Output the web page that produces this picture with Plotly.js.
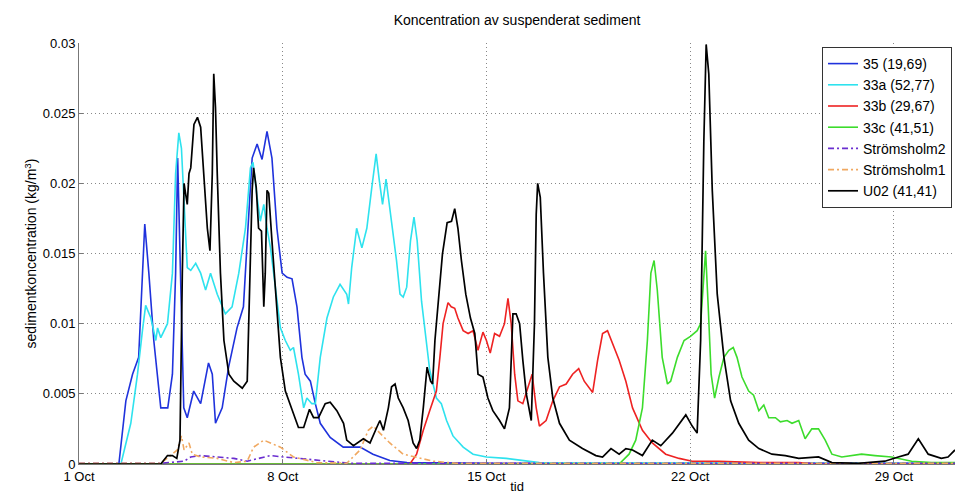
<!DOCTYPE html>
<html>
<head>
<meta charset="utf-8">
<script src="https://cdn.plot.ly/plotly-3.0.1.min.js"></script>
<style>html,body{margin:0;padding:0;background:#fff;}</style>
</head>
<body>
<div id="chart" style="width:957px;height:494px;"></div>
<script>
// x = day of October, y = concentration (kg/m3)
const s35 = [[1,0],[2.37,0],[2.61,0.0045],[2.84,0.0064],[3.05,0.0076],[3.18,0.0136],[3.26,0.0171],[3.40,0.0136],[3.57,0.0088],[3.81,0.004],[4.05,0.004],[4.21,0.0064],[4.32,0.0136],[4.39,0.0218],[4.49,0.0136],[4.60,0.004],[4.72,0.0033],[4.94,0.0052],[5.18,0.0043],[5.45,0.0072],[5.58,0.0064],[5.69,0.0029],[5.92,0.004],[6.14,0.0069],[6.43,0.0097],[6.65,0.0112],[6.78,0.0159],[6.95,0.0218],[7.12,0.0228],[7.29,0.0217],[7.46,0.0237],[7.63,0.0218],[7.80,0.0168],[7.98,0.0136],[8.15,0.0133],[8.32,0.0132],[8.49,0.0112],[8.66,0.0076],[8.77,0.0064],[8.95,0.0059],[9.12,0.0043],[9.29,0.0029],[9.63,0.0019],[10.08,0.0012],[10.66,0.0012],[11.10,0.0007],[11.68,0.00025],[12.27,0.0001],[15.45,0.00005],[31.1,0.00005]];

const s33a = [[1,0],[2.44,0],[2.78,0.0029],[3.01,0.0064],[3.18,0.0095],[3.29,0.0113],[3.47,0.0104],[3.64,0.0088],[3.70,0.0097],[3.81,0.009],[4.04,0.01],[4.21,0.0136],[4.32,0.0207],[4.43,0.0236],[4.52,0.0225],[4.61,0.0183],[4.72,0.014],[4.84,0.0138],[5.01,0.0143],[5.18,0.0136],[5.35,0.0124],[5.52,0.0136],[5.75,0.0121],[6.03,0.0107],[6.26,0.0112],[6.49,0.0136],[6.72,0.0168],[6.89,0.0211],[6.98,0.0215],[7.12,0.019],[7.23,0.0173],[7.35,0.0185],[7.46,0.0168],[7.58,0.0154],[7.69,0.0136],[7.80,0.0114],[7.92,0.0097],[8.09,0.0088],[8.26,0.0081],[8.37,0.0083],[8.54,0.0064],[8.72,0.004],[8.83,0.0047],[9.00,0.0043],[9.12,0.0043],[9.29,0.0076],[9.52,0.0104],[9.74,0.0119],[9.97,0.0128],[10.20,0.0121],[10.26,0.0114],[10.37,0.014],[10.54,0.0168],[10.72,0.0154],[10.89,0.0168],[11.06,0.0197],[11.21,0.0221],[11.32,0.0202],[11.43,0.0185],[11.55,0.0203],[11.68,0.0183],[11.80,0.0164],[11.91,0.0145],[12.03,0.0121],[12.14,0.0119],[12.26,0.0126],[12.39,0.0159],[12.51,0.0176],[12.62,0.0159],[12.77,0.0116],[12.92,0.0088],[13.05,0.0067],[13.28,0.0047],[13.45,0.0043],[13.63,0.0031],[13.85,0.002],[14.20,0.0012],[14.54,0.0007],[15.00,0.0005],[15.68,0.0004],[16.82,0.0001],[31.1,0.00005]];

const s33b = [[1,0],[12.37,0],[12.60,0.0007],[12.83,0.0024],[13.05,0.0038],[13.28,0.0052],[13.40,0.0076],[13.51,0.01],[13.68,0.0115],[13.79,0.0112],[13.91,0.0111],[14.02,0.0104],[14.20,0.0095],[14.37,0.0093],[14.54,0.0095],[14.71,0.0081],[14.88,0.0094],[15.00,0.0088],[15.13,0.0079],[15.28,0.0093],[15.45,0.0091],[15.62,0.01],[15.74,0.0118],[15.85,0.01],[15.97,0.0064],[16.08,0.0045],[16.25,0.0043],[16.42,0.0055],[16.57,0.0064],[16.71,0.004],[16.82,0.0027],[17.05,0.0031],[17.28,0.0045],[17.51,0.0055],[17.74,0.0057],[17.96,0.0064],[18.17,0.0068],[18.36,0.0059],[18.65,0.0051],[18.82,0.0074],[18.99,0.0093],[19.16,0.0095],[19.33,0.0086],[19.56,0.0074],[19.79,0.0059],[20.02,0.004],[20.36,0.0024],[20.70,0.0015],[21.16,0.0007],[21.62,0.0004],[22.07,0.0002],[22.99,0.0002],[24.36,0.0001],[25.73,0.0001],[26.4,0],[31.1,0]];

const s33c = [[1,0],[19.56,0],[19.90,0.0007],[20.13,0.0017],[20.36,0.004],[20.53,0.0088],[20.65,0.0136],[20.76,0.0145],[20.87,0.0124],[21.04,0.0076],[21.22,0.0057],[21.33,0.0059],[21.56,0.0076],[21.79,0.0088],[22.01,0.0091],[22.24,0.0095],[22.36,0.01],[22.47,0.0136],[22.53,0.0152],[22.62,0.0112],[22.72,0.0064],[22.84,0.0047],[22.99,0.0062],[23.16,0.0076],[23.33,0.0081],[23.48,0.0083],[23.61,0.0076],[23.78,0.0062],[24.01,0.0052],[24.18,0.0049],[24.36,0.0038],[24.53,0.0042],[24.70,0.0033],[24.93,0.0033],[25.10,0.003],[25.33,0.0031],[25.50,0.0029],[25.73,0.0031],[25.95,0.0018],[26.18,0.0025],[26.41,0.0025],[26.64,0.0017],[26.87,0.0007],[27.21,0.0005],[27.89,0.0007],[28.35,0.0006],[28.92,0.0005],[29.61,0.0002],[30.29,0.0001],[31.1,0.0001]];

const strom2 = [[1,0.00005],[3.81,0.00005],[4.61,0.0002],[4.84,0.0005],[5.18,0.0006],[5.75,0.0005],[6.32,0.0004],[6.78,0.0002],[7.23,0.0004],[7.58,0.0006],[8.03,0.0005],[8.60,0.0004],[9.74,0.0002],[10.32,0.00005],[31.1,0.00005]];

const strom1 = [[1,0.00005],[3.81,0.00005],[4.38,0.001],[4.52,0.002],[4.61,0.001],[4.78,0.0015],[4.89,0.0007],[5.18,0.0005],[5.75,0.0004],[6.32,0.0001],[6.78,0.0002],[7.00,0.0012],[7.35,0.0017],[7.58,0.0015],[7.92,0.0012],[8.37,0.0005],[9.17,0.0001],[10.20,0.00005],[10.66,0.001],[10.94,0.0024],[11.11,0.0027],[11.34,0.0022],[11.68,0.0015],[12.14,0.0007],[12.60,0.0005],[13.17,0.0002],[13.97,0.00005],[31.1,0.00005]];

const u02 = [[1,0],[3.81,0],[4.04,0.0006],[4.21,0.0006],[4.36,0.0004],[4.47,0.0017],[4.55,0.0136],[4.61,0.02],[4.66,0.0193],[4.72,0.0185],[4.78,0.0207],[4.84,0.0211],[4.95,0.0242],[5.07,0.0247],[5.18,0.024],[5.29,0.0207],[5.41,0.0168],[5.50,0.0152],[5.58,0.0207],[5.63,0.0278],[5.69,0.0254],[5.75,0.0207],[5.86,0.0136],[5.98,0.0088],[6.15,0.0064],[6.32,0.0059],[6.61,0.0054],[6.78,0.0059],[6.89,0.0136],[6.95,0.0195],[7.00,0.0211],[7.09,0.0197],[7.17,0.0168],[7.27,0.0166],[7.35,0.0112],[7.40,0.0136],[7.46,0.0195],[7.52,0.0193],[7.63,0.0159],[7.75,0.0124],[7.92,0.0076],[8.09,0.0052],[8.32,0.0038],[8.54,0.0026],[8.72,0.0026],[8.92,0.0039],[9.06,0.0033],[9.23,0.0033],[9.46,0.0043],[9.63,0.0044],[9.86,0.0038],[10.09,0.0029],[10.20,0.0017],[10.43,0.0013],[10.77,0.0018],[11.00,0.0015],[11.23,0.0026],[11.34,0.0031],[11.46,0.0024],[11.63,0.004],[11.74,0.0055],[11.86,0.0057],[11.97,0.0047],[12.14,0.004],[12.31,0.0031],[12.48,0.0015],[12.60,0.0011],[12.71,0.0017],[12.83,0.004],[12.96,0.0069],[13.08,0.0059],[13.15,0.0057],[13.23,0.0088],[13.34,0.0116],[13.49,0.015],[13.65,0.0172],[13.80,0.0173],[13.91,0.0182],[14.02,0.0168],[14.14,0.0145],[14.29,0.0121],[14.45,0.0104],[14.60,0.0093],[14.71,0.0064],[14.88,0.0062],[15.05,0.0047],[15.22,0.0038],[15.45,0.0031],[15.62,0.0025],[15.79,0.004],[15.91,0.0107],[16.02,0.0107],[16.14,0.01],[16.25,0.0074],[16.37,0.005],[16.54,0.0031],[16.65,0.01],[16.71,0.0178],[16.76,0.02],[16.85,0.019],[16.96,0.0136],[17.11,0.0076],[17.28,0.0047],[17.51,0.0029],[17.85,0.0017],[18.30,0.0011],[18.76,0.0006],[18.99,0.0005],[19.28,0.0011],[19.56,0.0007],[19.79,0.0011],[20.02,0.001],[20.36,0.0006],[20.70,0.0017],[20.99,0.0013],[21.39,0.0022],[21.85,0.0035],[22.07,0.0027],[22.24,0.0022],[22.36,0.0088],[22.47,0.023],[22.55,0.0299],[22.64,0.0278],[22.76,0.0195],[22.93,0.0121],[23.16,0.0076],[23.39,0.0045],[23.67,0.0029],[24.01,0.0017],[24.36,0.0011],[24.81,0.0007],[25.27,0.0006],[25.73,0.0004],[26.41,0.0005],[26.87,0.0001],[27.78,0.00005],[28.69,0.0002],[29.15,0.0005],[29.49,0.0007],[29.84,0.0018],[30.18,0.0007],[30.63,0.0004],[30.86,0.0005],[31.1,0.001]];

const seriesNames = ['35 (19,69)','33a (52,77)','33b (29,67)','33c (41,51)','Strömsholm2','Strömsholm1','U02 (41,41)'];
const xTickVals = [1, 8, 15, 22, 29];
const xTickText = ['1 Oct','8 Oct','15 Oct','22 Oct','29 Oct'];
const yTickVals = [0, 0.005, 0.01, 0.015, 0.02, 0.025, 0.03];
const yTickText = ['0','0.005','0.01','0.015','0.02','0.025','0.03'];

const seriesData = [s35, s33a, s33b, s33c, strom2, strom1, u02];
const styles = [
  {color:'#1f32dc', width:1.6, dash:'solid'},
  {color:'#2ee2ee', width:1.6, dash:'solid'},
  {color:'#ee2222', width:1.6, dash:'solid'},
  {color:'#3cdc2c', width:1.6, dash:'solid'},
  {color:'#6a2ed0', width:1.6, dash:'6px,3px,2px,3px'},
  {color:'#f0a860', width:1.6, dash:'6px,3px,2px,3px'},
  {color:'#000000', width:1.7, dash:'solid'}
];

const traces = seriesData.map((d, i) => ({
  type:'scatter', mode:'lines',
  name: seriesNames[i],
  x: d.map(p => p[0]),
  y: d.map(p => p[1]),
  line: styles[i]
}));

const layout = {
  width:957, height:494,
  margin:{l:79, r:2, t:43, b:30},
  paper_bgcolor:'#ffffff', plot_bgcolor:'#ffffff',
  font:{family:'"Liberation Sans", Arial, sans-serif', size:13, color:'#000'},
  title:{text:'Koncentration av suspenderat sediment', font:{size:14}, x:0.5, xref:'paper', xanchor:'center', y:1-20/494, yref:'container', yanchor:'middle'},
  showlegend:true,
  legend:{x:0.9966, xanchor:'right', y:0.9905, yanchor:'top', bgcolor:'#ffffff', bordercolor:'#333', borderwidth:1, font:{size:14}, tracegroupgap:0},
  xaxis:{
    range:[1, 31.1], tickmode:'array', tickvals:xTickVals, ticktext:xTickText,
    showgrid:true, gridcolor:'#888', griddash:'1px,3px', gridwidth:1,
    showline:true, linecolor:'#777', linewidth:1, ticks:'inside', ticklen:4, tickcolor:'#777',
    zeroline:false, title:{text:'tid', standoff:2, font:{size:13}}
  },
  yaxis:{
    range:[0, 0.03], tickmode:'array', tickvals:yTickVals, ticktext:yTickText,
    showgrid:true, gridcolor:'#888', griddash:'1px,3px', gridwidth:1,
    showline:true, linecolor:'#777', linewidth:1, ticks:'inside', ticklen:4, tickcolor:'#777',
    zeroline:false, title:{text:'sedimentkoncentration (kg/m<sup>3</sup>)', standoff:2, font:{size:14}}
  }
};

Plotly.newPlot('chart', traces, layout, {staticPlot:true, displayModeBar:false});
</script>
</body>
</html>
